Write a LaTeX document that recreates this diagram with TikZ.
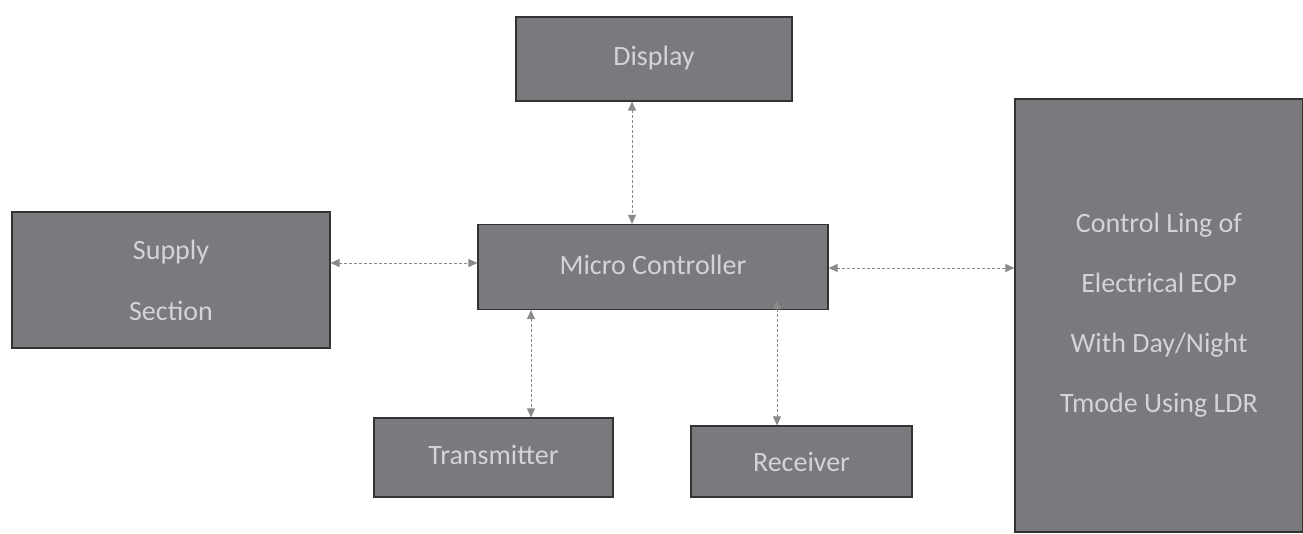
\documentclass[tikz,border=0pt]{standalone}
\usepackage{fontspec}
\setmainfont{Carlito}
\usetikzlibrary{arrows.meta}
\definecolor{boxfill}{HTML}{7A7A7E}
\definecolor{boxtext}{HTML}{D4D4D6}
\definecolor{linkcol}{HTML}{8A8A8A}
\tikzset{
  blk/.style={draw=black!80, line width=1.2pt, fill=boxfill, text=boxtext, inner sep=0pt, font=\fontsize{28}{30}\selectfont, align=center},
  link/.style={draw=linkcol, line width=0.9pt, densely dashed, {Triangle[length=9pt,width=8pt]}-{Triangle[length=9pt,width=8pt]}, color=linkcol}
}
\begin{document}
\begin{tikzpicture}[x=1pt,y=-1pt]
\useasboundingbox (0,0) rectangle (1303,534);
\node[blk, minimum width=276pt, minimum height=84pt] (disp) at (654,59) {\raisebox{6pt}{Display}};
\node[blk, minimum width=350pt, minimum height=85pt] (mc) at (653,267) {\raisebox{4pt}{Micro Controller}};
\node[blk, minimum width=318pt, minimum height=136pt] (sup) at (171,280) {\raisebox{5pt}{\parbox{300pt}{\centering\fontsize{28}{61}\selectfont Supply\\Section}}};
\node[blk, minimum width=239pt, minimum height=79pt] (tx) at (493.5,457.5) {\raisebox{6pt}{Transmitter}};
\node[blk, minimum width=221pt, minimum height=71pt] (rx) at (801.5,461.5) {Receiver};
\node[blk, minimum width=288pt, minimum height=433pt] (ctl) at (1159,315.5) {\raisebox{6pt}{\parbox{280pt}{\centering\fontsize{28}{60}\selectfont Control Ling of\\Electrical EOP\\With Day/Night\\Tmode Using LDR}}};
\draw[link] (disp.south -| 632,0) -- (mc.north -| 632,0);
\draw[link] (sup.east |- 0,263) -- (mc.west |- 0,263);
\draw[link] (mc.south -| 531,0) -- (tx.north -| 531,0);
\draw[link] ([yshift=10pt]mc.south -| 777,0) -- (rx.north -| 777,0);
\draw[link] (mc.east |- 0,268) -- (ctl.west |- 0,268);
\end{tikzpicture}
\end{document}
